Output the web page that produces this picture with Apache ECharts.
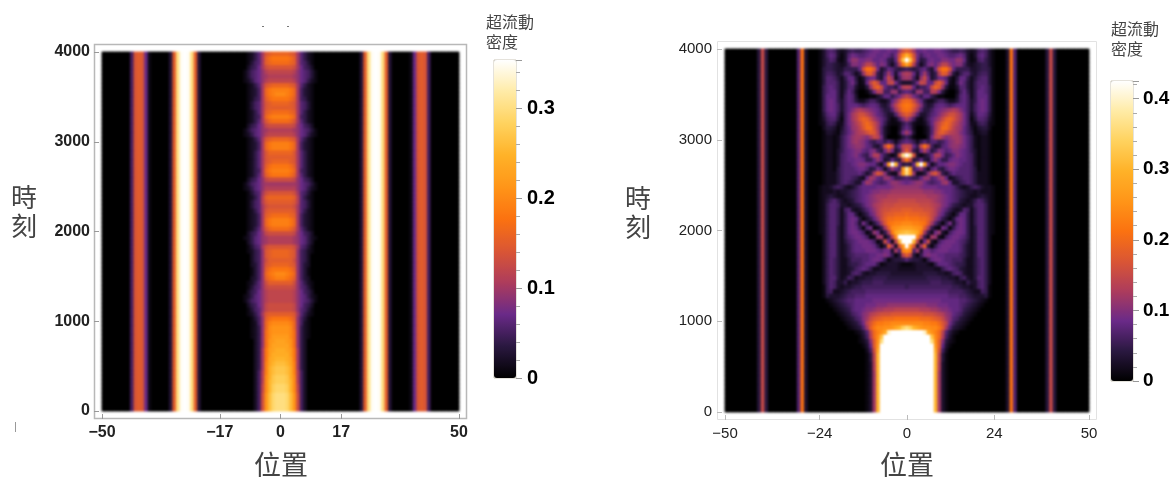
<!DOCTYPE html>
<html><head><meta charset="utf-8">
<style>html,body{margin:0;padding:0;background:#fff}#h,#c{position:absolute;left:0;top:0;width:1175px;height:477px}#h{filter:blur(1.2px)}</style>
<script src="https://cdn.jsdelivr.net/npm/echarts@6/dist/echarts.min.js"></script>
</head><body><div id="h"></div><div id="c"></div>
<script>
const sunset=['#000000','#2a1840','#6a2a88','#ad3c5c','#da5634','#fb7210','#ff9518','#ffb228','#ffd25e','#ffeba6','#ffffff'];
const leftTicksX=[-50,-17,0,17,50];
const rightTicksX=[-50,-24,0,24,50];
const leftMax=0.354, rightMax=0.425;
// superfluid density, in hundredths. Rows run from t=3975 down to t=25 in steps of 50, columns from |x|=0 outward
const leftSide=[0,0,0,0,0,0,0,0,0,3,15,30,35,36,35,30,15,3,0,0,0,0,0,1,7,14,15,14,5,0,0,0,0,0,0,0,0];
const leftCore=[
[16,16,16,15,14,10,6,4,2,1,0,0,0,0],
[18,18,18,17,15,10,6,4,2,1,0,0,0,0],
[17,17,17,16,15,10,6,5,3,1,0,0,0,0],
[14,14,14,14,13,10,7,5,4,2,0,0,0,0],
[12,12,12,12,11,9,7,6,5,3,1,0,0,0],
[11,11,11,11,10,9,7,6,5,3,1,0,0,0],
[12,12,12,12,11,9,7,6,4,2,1,0,0,0],
[16,16,16,15,14,10,6,4,2,1,0,0,0,0],
[19,19,19,18,16,10,5,3,2,1,0,0,0,0],
[20,20,19,18,16,10,5,3,2,1,0,0,0,0],
[18,18,18,17,15,10,5,4,2,1,0,0,0,0],
[16,16,16,15,14,10,6,5,3,1,0,0,0,0],
[15,15,15,15,14,10,6,5,3,1,0,0,0,0],
[17,17,17,16,15,10,6,4,2,1,0,0,0,0],
[19,19,19,18,16,10,5,4,2,1,0,0,0,0],
[17,17,17,16,14,10,6,4,2,1,0,0,0,0],
[13,13,13,13,12,9,7,5,4,2,0,0,0,0],
[11,11,11,11,10,9,7,6,5,3,1,0,0,0],
[12,12,12,12,11,9,7,6,4,2,1,0,0,0],
[16,16,16,15,14,10,6,4,2,1,0,0,0,0],
[19,19,19,18,16,10,5,3,2,1,0,0,0,0],
[19,19,19,18,16,10,5,3,2,1,0,0,0,0],
[16,16,16,16,14,10,6,4,2,1,0,0,0,0],
[15,15,15,15,14,10,6,4,2,1,0,0,0,0],
[16,16,16,15,14,10,6,4,2,1,0,0,0,0],
[18,18,18,17,15,10,6,4,2,1,0,0,0,0],
[19,19,19,18,16,10,5,4,2,1,0,0,0,0],
[18,18,18,17,15,10,6,4,2,1,0,0,0,0],
[13,13,13,13,12,9,7,5,4,2,0,0,0,0],
[10,10,10,10,10,9,7,6,5,3,1,0,0,0],
[11,11,11,11,11,9,7,6,4,2,1,0,0,0],
[14,14,14,14,13,10,6,5,3,1,0,0,0,0],
[16,16,16,16,15,11,6,4,2,1,0,0,0,0],
[15,15,15,15,14,11,6,5,3,1,0,0,0,0],
[14,14,14,14,13,10,6,5,3,1,0,0,0,0],
[15,15,15,15,14,10,6,4,2,1,0,0,0,0],
[17,17,17,16,15,10,5,3,2,1,0,0,0,0],
[19,19,19,18,16,10,5,3,2,1,0,0,0,0],
[19,19,19,18,16,10,5,3,2,1,0,0,0,0],
[17,17,17,16,14,10,6,4,2,1,0,0,0,0],
[13,13,13,13,12,9,7,5,4,2,0,0,0,0],
[11,11,11,11,10,9,7,6,4,2,1,0,0,0],
[11,11,11,11,10,9,7,6,4,2,0,0,0,0],
[14,14,14,14,13,10,6,5,3,1,0,0,0,0],
[16,16,16,15,14,9,5,4,2,1,0,0,0,0],
[16,16,16,15,14,9,5,4,2,0,0,0,0,0],
[15,15,15,15,13,9,5,4,2,0,0,0,0,0],
[16,16,16,15,14,9,5,3,2,0,0,0,0,0],
[18,18,18,17,15,9,5,3,1,0,0,0,0,0],
[20,20,19,18,16,9,5,3,1,0,0,0,0,0],
[19,19,18,17,15,9,5,3,2,0,0,0,0,0],
[15,15,15,15,13,9,6,4,2,1,0,0,0,0],
[13,13,13,13,12,9,6,5,3,1,0,0,0,0],
[12,12,12,12,11,9,7,5,4,2,0,0,0,0],
[12,12,12,12,11,9,7,6,4,2,1,0,0,0],
[12,12,12,12,11,9,7,6,5,3,1,0,0,0],
[13,13,13,13,12,9,7,5,4,2,0,0,0,0],
[13,13,13,13,12,9,6,5,3,1,0,0,0,0],
[15,15,15,15,14,10,6,4,2,1,0,0,0,0],
[18,18,18,17,15,9,5,3,1,0,0,0,0,0],
[20,20,20,19,16,9,5,2,1,0,0,0,0,0],
[21,21,21,20,16,9,4,2,1,0,0,0,0,0],
[21,21,21,20,17,9,4,2,1,0,0,0,0,0],
[22,22,22,20,17,9,4,2,1,0,0,0,0,0],
[23,23,22,21,17,9,4,2,0,0,0,0,0,0],
[23,23,23,21,17,9,4,2,0,0,0,0,0,0],
[24,24,23,22,18,10,4,2,0,0,0,0,0,0],
[24,24,24,22,18,10,4,2,0,0,0,0,0,0],
[25,25,24,23,18,10,4,2,0,0,0,0,0,0],
[26,26,25,23,19,10,4,2,0,0,0,0,0,0],
[27,27,26,24,19,10,4,2,0,0,0,0,0,0],
[27,27,26,24,19,11,5,2,0,0,0,0,0,0],
[28,28,27,24,20,11,5,2,0,0,0,0,0,0],
[28,28,27,25,20,11,5,2,0,0,0,0,0,0],
[29,29,28,25,20,12,5,2,0,0,0,0,0,0],
[29,29,28,25,20,12,5,2,0,0,0,0,0,0],
[30,30,29,26,21,13,5,2,0,0,0,0,0,0],
[30,30,29,26,21,13,5,2,0,0,0,0,0,0],
[30,30,29,26,21,13,5,2,0,0,0,0,0,0],
[30,30,29,26,21,13,5,2,0,0,0,0,0,0]
];
const rightSide=[0,0,0,3,21,7,0,0,0,0,0,0,0,0,4,15,4,0,0,0,0,0,0,0,0,0];
const rightCore=[
[18,16,12,8,8,9,8,8,9,9,8,7,6,5,5,6,5,3,2,3,6,7,6,3,1],
[30,24,16,9,6,8,9,8,8,9,9,8,7,7,8,9,7,3,1,3,7,8,6,3,1],
[44,32,18,8,4,5,8,9,8,8,10,10,9,9,11,11,8,3,1,2,6,7,5,3,1],
[28,22,13,6,2,5,9,10,8,11,14,14,11,9,10,10,6,3,2,3,4,5,5,3,1],
[6,5,4,5,7,8,5,3,9,17,21,21,16,8,5,5,5,5,3,3,4,5,5,4,1],
[13,12,8,3,8,12,7,3,5,13,18,17,11,4,2,5,7,7,4,3,5,6,6,4,1],
[12,11,6,2,11,15,9,3,5,9,9,7,3,1,4,8,8,5,2,4,6,7,7,4,1],
[3,3,5,9,15,14,8,8,15,18,14,8,2,1,5,9,7,4,2,5,7,7,7,4,1],
[14,13,8,4,6,6,8,15,19,17,11,4,1,1,3,7,7,4,2,5,7,8,7,5,1],
[8,7,5,11,11,6,6,13,13,9,4,1,0,0,2,6,8,5,2,5,8,8,7,5,1],
[14,12,9,7,5,8,8,5,3,1,1,0,0,0,3,7,8,6,2,5,8,8,8,5,1],
[20,19,15,11,8,4,2,2,4,6,6,4,2,2,4,7,8,6,3,5,8,9,8,5,1],
[22,21,18,14,10,5,3,4,7,8,8,7,6,7,8,8,8,6,3,6,8,9,8,5,1],
[21,20,16,12,7,4,4,6,8,9,10,11,12,13,12,10,8,6,3,6,8,9,8,5,1],
[18,16,12,7,3,3,5,7,8,10,12,14,16,16,14,12,9,6,2,5,8,8,7,4,1],
[13,10,6,2,1,3,6,8,10,12,15,18,19,17,14,12,9,6,1,4,7,7,6,3,1],
[7,5,2,1,1,2,5,8,12,15,18,20,18,15,13,11,9,6,2,2,5,6,5,2,1],
[8,6,2,0,0,1,3,7,12,16,20,20,17,14,12,11,8,6,3,1,3,4,4,2,0],
[12,9,3,0,0,1,3,7,13,17,18,16,14,13,12,10,8,6,4,1,2,3,3,1,0],
[6,4,1,0,0,0,3,9,14,15,12,10,11,12,12,11,9,7,5,2,1,2,2,1,0],
[8,7,5,2,5,7,5,7,7,5,6,8,10,11,12,11,9,7,5,2,1,2,2,1,0],
[15,14,8,5,15,21,15,6,3,4,7,8,10,11,11,10,9,7,5,2,1,2,2,1,0],
[18,13,5,3,9,13,9,4,6,10,9,7,8,10,10,9,8,7,5,3,1,2,2,1,0],
[44,36,16,3,1,3,5,8,13,13,9,5,6,8,10,9,8,7,6,3,1,2,2,1,0],
[22,15,4,5,8,4,3,8,11,8,5,5,8,9,9,8,8,7,6,3,1,2,2,1,0],
[5,4,8,30,44,26,8,2,5,8,8,9,10,10,9,8,7,7,6,3,1,2,2,1,0],
[38,26,6,8,11,6,2,7,9,5,4,7,9,9,8,7,7,7,6,4,1,2,2,1,0],
[36,26,11,2,2,4,10,15,17,12,5,3,6,8,7,7,7,7,6,4,2,2,2,1,0],
[7,6,5,5,8,11,11,7,8,11,12,8,2,3,5,6,7,7,6,4,2,2,2,1,0],
[8,9,10,11,11,9,7,6,7,8,11,12,8,3,3,5,6,7,6,4,2,2,2,1,0],
[11,11,11,11,10,9,9,9,9,8,8,8,8,7,5,3,2,3,5,6,5,3,2,2,1],
[12,12,12,12,12,11,11,11,10,10,9,8,8,7,6,5,4,3,3,2,3,2,2,2,1],
[13,13,13,13,13,13,12,12,12,11,10,9,8,7,6,5,4,3,2,2,3,4,3,2,1],
[15,15,15,14,14,14,14,13,12,11,10,9,8,7,6,4,3,2,3,5,7,6,4,2,1],
[16,16,16,16,15,15,15,14,13,12,10,9,7,5,4,3,2,3,3,6,7,7,5,2,1],
[18,18,17,17,17,16,16,15,13,11,9,7,5,3,2,3,7,6,2,5,7,7,5,2,1],
[20,19,19,19,18,18,17,15,13,10,8,5,3,1,4,8,8,5,2,5,7,7,5,2,1],
[22,21,21,21,20,20,18,15,11,8,5,3,1,4,8,9,8,5,2,5,7,7,5,2,1],
[24,24,23,23,22,21,17,12,7,4,1,5,9,3,7,9,8,5,2,5,7,7,5,2,1],
[27,27,26,25,24,18,12,5,2,1,9,7,1,5,8,9,8,5,2,4,7,7,5,2,1],
[32,31,30,28,22,12,5,2,9,11,3,1,6,8,9,9,8,5,2,4,7,7,5,2,1],
[44,44,44,24,14,5,2,12,11,2,1,6,8,9,9,8,7,5,2,4,7,7,5,2,0],
[44,44,30,14,2,9,15,3,1,6,8,9,9,9,8,7,6,4,2,4,7,7,5,2,0],
[44,26,17,3,12,18,4,1,5,8,9,9,9,8,8,7,5,3,2,4,7,7,5,2,0],
[25,23,7,12,3,9,9,7,8,9,9,9,8,8,8,7,5,3,2,4,7,7,5,2,0],
[18,14,4,1,5,9,10,9,9,8,8,7,7,7,7,6,5,3,2,4,7,7,5,2,0],
[7,5,4,4,3,1,5,8,9,9,8,7,7,6,6,6,4,2,2,4,6,7,5,2,0],
[1,1,2,3,3,3,2,1,5,8,8,8,7,6,5,5,4,2,2,4,6,7,5,2,0],
[2,2,2,3,3,3,3,3,2,2,5,7,8,7,6,4,3,2,2,4,6,7,5,2,0],
[3,3,3,3,3,4,4,4,4,3,3,2,3,6,7,6,3,2,2,4,6,7,5,2,0],
[4,4,4,4,4,4,5,5,5,5,4,4,3,3,2,5,6,3,2,4,7,7,5,2,0],
[5,5,5,5,5,5,5,6,6,6,5,5,5,4,3,3,2,5,3,3,6,7,5,2,0],
[5,6,6,6,6,6,6,6,6,6,6,6,6,5,5,4,3,3,2,3,6,7,5,1,0],
[7,7,7,7,7,7,7,7,7,7,7,7,6,6,6,6,5,4,3,2,2,6,5,1,0],
[8,8,8,8,8,8,8,8,8,8,8,8,7,7,7,6,6,5,4,3,3,3,4,1,0],
[9,9,9,9,9,9,9,9,9,9,8,8,8,8,8,7,7,6,5,4,3,2,1,0,0],
[11,11,11,11,11,11,10,10,10,9,9,9,8,8,8,7,6,5,4,3,2,1,0,0,0],
[14,14,14,14,13,13,13,12,12,11,10,10,9,8,8,7,5,4,3,2,1,0,0,0,0],
[17,17,17,17,17,16,16,16,15,14,13,11,10,8,7,6,4,3,2,1,0,0,0,0,0],
[21,21,21,21,20,20,20,19,18,17,15,12,10,7,6,4,3,2,1,0,0,0,0,0,0],
[24,24,24,24,24,23,23,22,22,20,17,14,9,6,4,3,2,1,0,0,0,0,0,0,0],
[36,34,30,28,26,25,25,24,24,22,18,12,7,4,3,2,1,0,0,0,0,0,0,0,0],
[44,44,44,44,44,40,28,25,23,20,14,7,4,2,1,0,0,0,0,0,0,0,0,0,0],
[44,44,44,44,44,44,44,32,24,20,13,6,3,1,0,0,0,0,0,0,0,0,0,0,0],
[44,44,44,44,44,44,44,36,25,18,10,4,2,1,0,0,0,0,0,0,0,0,0,0,0],
[44,44,44,44,44,44,44,44,26,18,8,3,1,0,0,0,0,0,0,0,0,0,0,0,0],
[44,44,44,44,44,44,44,44,28,16,6,2,0,0,0,0,0,0,0,0,0,0,0,0,0],
[44,44,44,44,44,44,44,44,30,14,4,1,0,0,0,0,0,0,0,0,0,0,0,0,0],
[44,44,44,44,44,44,44,44,30,14,4,1,0,0,0,0,0,0,0,0,0,0,0,0,0],
[44,44,44,44,44,44,44,44,30,13,3,1,0,0,0,0,0,0,0,0,0,0,0,0,0],
[44,44,44,44,44,44,44,44,30,13,3,1,0,0,0,0,0,0,0,0,0,0,0,0,0],
[44,44,44,44,44,44,44,44,30,12,3,1,0,0,0,0,0,0,0,0,0,0,0,0,0],
[44,44,44,44,44,44,44,44,30,12,3,1,0,0,0,0,0,0,0,0,0,0,0,0,0],
[44,44,44,44,44,44,44,44,30,12,3,1,0,0,0,0,0,0,0,0,0,0,0,0,0],
[44,44,44,44,44,44,44,44,30,12,3,1,0,0,0,0,0,0,0,0,0,0,0,0,0],
[44,44,44,44,44,44,44,44,30,12,3,1,0,0,0,0,0,0,0,0,0,0,0,0,0],
[44,44,44,44,44,44,44,44,30,12,3,1,0,0,0,0,0,0,0,0,0,0,0,0,0],
[44,44,44,44,44,44,44,44,30,12,3,1,0,0,0,0,0,0,0,0,0,0,0,0,0],
[44,44,44,44,44,44,44,44,30,12,3,1,0,0,0,0,0,0,0,0,0,0,0,0,0],
[44,44,44,44,44,44,44,44,30,12,3,1,0,0,0,0,0,0,0,0,0,0,0,0,0]
];
const sans='"Liberation Sans",Arial,sans-serif', cjk='"Noto Sans CJK TC","Noto Sans CJK JP",sans-serif';
const xCats=[];for(let u=-50;u<=50;u++)xCats.push(u);
function cells(core,side){
  const out=[],n=core.length,w=core[0].length;
  core.forEach((row,r)=>{xCats.forEach((u,i)=>{
    const a=Math.abs(u);
    out.push([i,n-1-r,(a<w?row[a]:side[a-w])/100]);
  });});
  return out;
}
const minus=v=>String(v).replace('-','\u2212');
const grids=[{left:102,top:52,width:357,height:359},{left:725,top:49,width:364,height:363}];
const dataL=cells(leftCore,leftSide), dataR=cells(rightCore,rightSide);
// lower, softly blurred layer: the two density maps (each drawn twice so the cell seams close up)
const heat=echarts.init(document.getElementById('h'));
heat.setOption({
  animation:false,backgroundColor:'#fff',grid:grids,
  xAxis:[{type:'category',gridIndex:0,data:xCats,show:false},{type:'category',gridIndex:1,data:xCats,show:false}],
  yAxis:[{type:'category',gridIndex:0,data:leftCore.map((_,i)=>i),show:false},{type:'category',gridIndex:1,data:rightCore.map((_,i)=>i),show:false}],
  visualMap:[
    {type:'continuous',show:false,seriesIndex:[0,2],min:0,max:leftMax,inRange:{color:sunset},outOfRange:{color:'#fff'}},
    {type:'continuous',show:false,seriesIndex:[1,3],min:0,max:rightMax,inRange:{color:sunset},outOfRange:{color:'#fff'}}
  ],
  series:[
    {type:'heatmap',xAxisIndex:0,yAxisIndex:0,data:dataL,silent:true,progressive:0},
    {type:'heatmap',xAxisIndex:1,yAxisIndex:1,data:dataR,silent:true,progressive:0},
    {type:'heatmap',xAxisIndex:0,yAxisIndex:0,data:dataL,silent:true,progressive:0},
    {type:'heatmap',xAxisIndex:1,yAxisIndex:1,data:dataR,silent:true,progressive:0}
  ]
});
// upper layer: axes, frames, colour bars, text
function plotAxes(g,ticks,o){
  return {
    x:{type:'value',gridIndex:g,min:-50,max:50,position:'bottom',offset:8,splitLine:{show:false},axisLine:{show:false,onZero:false},
        axisTick:{show:true,inside:true,length:5,lineStyle:{color:o.tick},customValues:ticks},
        axisLabel:{customValues:ticks,formatter:minus,margin:o.mx,fontFamily:sans,fontSize:o.fs,fontWeight:o.fw,color:o.col,showMinLabel:true,showMaxLabel:true}},
    y:{type:'value',gridIndex:g,min:0,max:4000,interval:1000,position:'left',offset:8,splitLine:{show:false},axisLine:{show:false,onZero:false},
        axisTick:{show:true,inside:true,length:5,lineStyle:{color:o.tick}},
        axisLabel:{margin:o.my,fontFamily:sans,fontSize:o.fs,fontWeight:o.fw,color:o.col,formatter:v=>String(v)}}
  };
}
const aL=plotAxes(0,leftTicksX,{tick:'#999',mx:6,my:4,fs:16,fw:'bold',col:'#222'});
const aR=plotAxes(1,rightTicksX,{tick:'#bbb',mx:6,my:5,fs:15,fw:'normal',col:'#222'});
function barAxis(g,max,fs,margin){return {
  x:{type:'category',gridIndex:g,data:[''],show:false},
  y:{type:'value',gridIndex:g,min:0,max:max,interval:0.1,position:'right',splitLine:{show:false},axisLine:{show:false,onZero:false},
     axisTick:{show:true,length:6,lineStyle:{color:'#999'}},minorTick:{show:true,splitNumber:5,length:4,lineStyle:{color:'#aaa'}},minorSplitLine:{show:false},
     axisLabel:{margin:margin,fontFamily:sans,fontSize:fs,fontWeight:'bold',color:'#000',showMaxLabel:false,formatter:v=>String(+v.toFixed(1))}}
};}
const bL=barAxis(2,leftMax,20,11), bR=barAxis(3,rightMax,19,10);
function txt(t,x,y,size,col){return {type:'text',silent:true,x:x,y:y,style:{text:t,font:size+'px '+cjk,fill:col||'#444',textAlign:'left',textVerticalAlign:'middle'}};}
function frame(x,y,w,h,c,lw){return {type:'rect',silent:true,shape:{x:x,y:y,width:w,height:h},style:{fill:'none',stroke:c,lineWidth:lw}};}
function mark(x,y,w,h,c){return {type:'rect',silent:true,shape:{x:x,y:y,width:w,height:h},style:{fill:c}};}
const chart=echarts.init(document.getElementById('c'));
chart.setOption({
  animation:false,backgroundColor:'transparent',
  grid:grids.concat([{left:494,top:60,width:22,height:318},{left:1111,top:81,width:22,height:300}]),
  xAxis:[aL.x,aR.x,bL.x,bR.x],
  yAxis:[aL.y,aR.y,bL.y,bR.y],
  visualMap:[
    {type:'continuous',seriesIndex:[],min:0,max:leftMax,inRange:{color:sunset},left:494,top:60,itemWidth:22,itemHeight:318,padding:0,calculable:false,hoverLink:false},
    {type:'continuous',seriesIndex:[],min:0,max:rightMax,inRange:{color:sunset},left:1111,top:81,itemWidth:22,itemHeight:300,padding:0,calculable:false,hoverLink:false}
  ],
  series:[],
  graphic:[
    frame(94.5,44.5,372,374,'#b8b8b8',1.5),
    frame(717.5,41.5,379,378,'#e2e2e2',1),
    frame(494,60,22,318,'#bdb6a4',0.8),
    frame(1111,81,22,300,'#bdb6a4',0.8),
    mark(262,26,2,1,'#777'),mark(287,26,2,1,'#777'),mark(15,422,1,10,'#999'),
    txt('時',11,197,26),txt('刻',11,226,26),
    txt('位置',254,465,27),
    txt('時',625,198,26),txt('刻',625,227,26),
    txt('位置',880,465,27),
    txt('超流動',486,22,16),txt('密度',486,42,16),
    txt('超流動',1111,29,16),txt('密度',1111,49,16)
  ]
});
</script></body></html>
